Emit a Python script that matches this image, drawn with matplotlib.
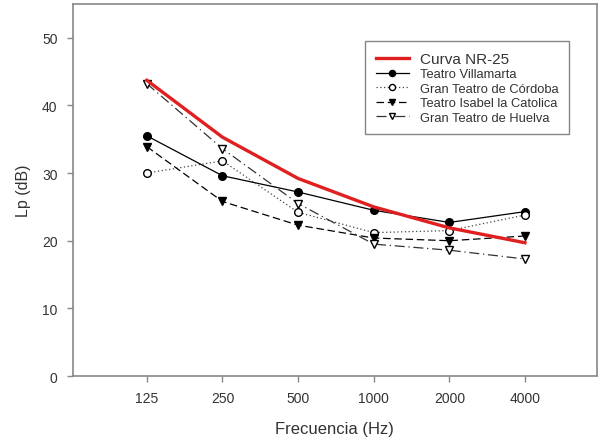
import matplotlib.pyplot as plt
import numpy as np

plt.rcParams['font.family'] = ['Liberation Sans', 'DejaVu Sans']

freqs = ['125', '250', '500', '1000', '2000', '4000']
nr25 = [43.7, 35.3, 29.2, 25.0, 21.9, 19.7]
villamarta = [35.5, 29.6, 27.2, 24.5, 22.7, 24.3]
cordoba = [30.0, 31.8, 24.2, 21.2, 21.5, 23.8]
isabel = [33.9, 25.8, 22.3, 20.4, 20.0, 20.7]
huelva = [43.2, 33.6, 25.5, 19.5, 18.6, 17.3]

x = np.arange(len(freqs))

fig = plt.figure(figsize=(6.01, 4.39), dpi=100)
ax = fig.add_axes([0.121, 0.141, 0.872, 0.848])

ax.plot(x, nr25, color='#e02020', lw=2.4, label='Curva NR-25', zorder=3)
ax.plot(x, villamarta, color='black', lw=0.9, ls='-', marker='o', ms=5.5,
        mfc='black', mec='black', label='Teatro Villamarta')
ax.plot(x, cordoba, color='#444444', lw=0.9, ls=(0, (1, 2)), marker='o', ms=5.5,
        mfc='white', mec='black', label='Gran Teatro de Córdoba')
ax.plot(x, isabel, color='black', lw=0.9, ls=(0, (6, 3)), marker='v', ms=5.5,
        mfc='black', mec='black', label='Teatro Isabel la Catolica')
ax.plot(x, huelva, color='#333333', lw=0.9, ls=(0, (8, 3, 1, 3)), marker='v', ms=5.5,
        mfc='white', mec='black', label='Gran Teatro de Huelva')

ax.set_xlim(-0.98, 5.95)
ax.set_ylim(0, 55)
ax.set_xticks(x)
ax.set_xticklabels(freqs)
ax.set_yticks([0, 10, 20, 30, 40, 50])

for s in ax.spines.values():
    s.set_color('#888888')
    s.set_linewidth(1.2)
ax.tick_params(direction='out', length=4, width=1, color='#888888',
               labelsize=10, labelcolor='#333333', pad=7)
ax.set_xlabel('Frecuencia (Hz)', fontsize=12, color='#333333', labelpad=11)
ax.set_ylabel('Lp (dB)', fontsize=11.5, color='#333333', labelpad=8)

leg = ax.legend(loc='upper left', bbox_to_anchor=(0.546, 0.917), fontsize=9.3,
                frameon=True, fancybox=False, edgecolor='#666666',
                handlelength=2.6, labelspacing=0.2, borderpad=0.8, markerscale=0.8)
leg.get_frame().set_linewidth(1.0)
leg.get_texts()[0].set_fontsize(11)
for t in leg.get_texts():
    t.set_color('#333333')

fig.savefig('out.png', dpi=100)
